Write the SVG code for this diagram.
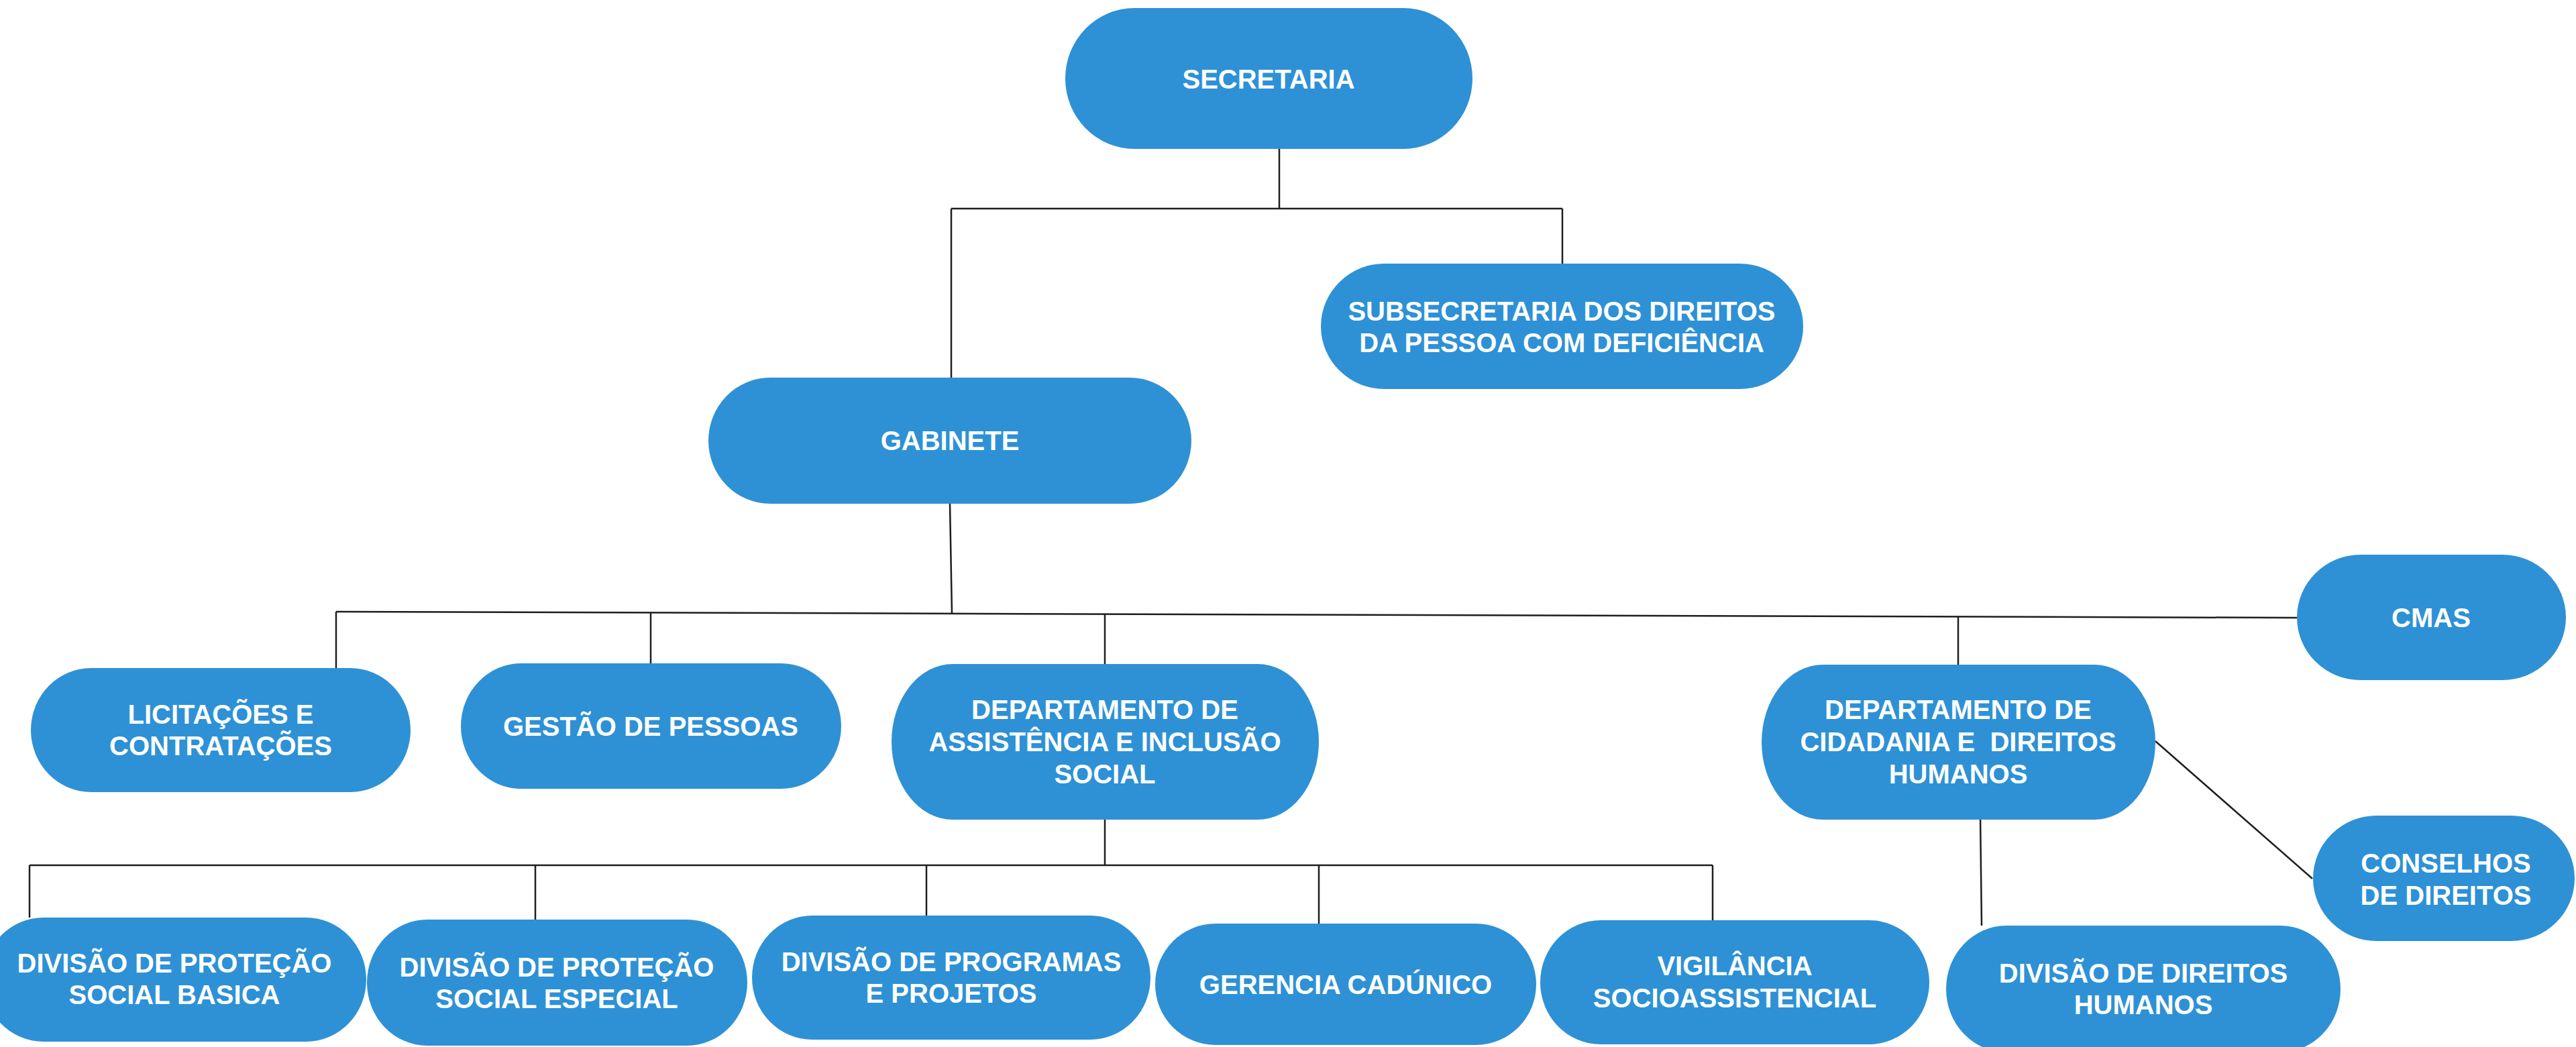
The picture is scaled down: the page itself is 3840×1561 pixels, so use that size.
<svg xmlns="http://www.w3.org/2000/svg" width="3840" height="1561" viewBox="0 0 3840 1561">
<style>
.node rect { fill: #2E91D5; }
.node text { fill: #FFFFFF; font-family: "Liberation Sans", Arial, sans-serif; font-weight: bold; font-size: 40px; text-anchor: middle; white-space: pre; }
#connectors path { fill: none; stroke: #1E1E1E; stroke-width: 2.5; }
</style>
<rect x="0" y="0" width="3840" height="1561" fill="#FFFFFF"/>
<g id="connectors">
<path d="M1907 222 V311"/>
<path d="M1418 311 H2329"/>
<path d="M2329 311 V393"/>
<path d="M1418 311 V563"/>
<path d="M1416 751 L1419 915"/>
<path d="M501 912 L3424 921"/>
<path d="M501 912 V996"/>
<path d="M970 913.4 V989"/>
<path d="M1647 915.5 V990"/>
<path d="M2919 919.4 V991"/>
<path d="M1647 1222 V1290"/>
<path d="M44 1290 H2553"/>
<path d="M44 1290 V1368"/>
<path d="M798 1290 V1371"/>
<path d="M1381 1290 V1365"/>
<path d="M1966 1290 V1377"/>
<path d="M2553 1290 V1372"/>
<path d="M2952 1217 L2954 1380"/>
<path d="M3213 1105 L3447 1310"/>
</g>
<g id="secretaria" class="node">
<rect x="1588" y="12" width="607" height="210" rx="103" ry="105"/>
<text x="1891" y="132">SECRETARIA</text>
</g>
<g id="subsecretaria" class="node">
<rect x="1969" y="393" width="719" height="187" rx="95" ry="93.5"/>
<text x="2328" y="478">SUBSECRETARIA DOS DIREITOS</text>
<text x="2328" y="525">DA PESSOA COM DEFICIÊNCIA</text>
</g>
<g id="gabinete" class="node">
<rect x="1056" y="563" width="720" height="188" rx="92" ry="94"/>
<text x="1416" y="671">GABINETE</text>
</g>
<g id="licitacoes" class="node">
<rect x="46" y="996" width="566" height="185" rx="90" ry="92.5"/>
<text x="329" y="1079">LICITAÇÕES E</text>
<text x="329" y="1126">CONTRATAÇÕES</text>
</g>
<g id="gestao-pessoas" class="node">
<rect x="687" y="989" width="567" height="187" rx="90" ry="93.5"/>
<text x="970" y="1097">GESTÃO DE PESSOAS</text>
</g>
<g id="dept-assistencia" class="node">
<rect x="1329" y="990" width="637" height="232" rx="91" ry="116"/>
<text x="1647" y="1072">DEPARTAMENTO DE</text>
<text x="1647" y="1120">ASSISTÊNCIA E INCLUSÃO</text>
<text x="1647" y="1168">SOCIAL</text>
</g>
<g id="dept-cidadania" class="node">
<rect x="2626" y="991" width="587" height="231" rx="91" ry="115.5"/>
<text x="2919" y="1072">DEPARTAMENTO DE</text>
<text x="2919" y="1120">CIDADANIA E  DIREITOS</text>
<text x="2919" y="1168">HUMANOS</text>
</g>
<g id="cmas" class="node">
<rect x="3424" y="827" width="401" height="187" rx="95" ry="93.5"/>
<text x="3624" y="935">CMAS</text>
</g>
<g id="conselhos" class="node">
<rect x="3448" y="1216" width="390" height="187" rx="95" ry="93.5"/>
<text x="3646" y="1301">CONSELHOS</text>
<text x="3646" y="1349">DE DIREITOS</text>
</g>
<g id="div-basica" class="node">
<rect x="-25" y="1368" width="571" height="185" rx="90" ry="92.5"/>
<text x="260" y="1450">DIVISÃO DE PROTEÇÃO</text>
<text x="260" y="1497">SOCIAL BASICA</text>
</g>
<g id="div-especial" class="node">
<rect x="547" y="1371" width="567" height="188" rx="90" ry="94"/>
<text x="830" y="1456">DIVISÃO DE PROTEÇÃO</text>
<text x="830" y="1503">SOCIAL ESPECIAL</text>
</g>
<g id="div-programas" class="node">
<rect x="1121" y="1365" width="594" height="185" rx="90" ry="92.5"/>
<text x="1418" y="1448">DIVISÃO DE PROGRAMAS</text>
<text x="1418" y="1495">E PROJETOS</text>
</g>
<g id="gerencia-cadunico" class="node">
<rect x="1722" y="1377" width="568" height="181" rx="90" ry="90.5"/>
<text x="2006" y="1482">GERENCIA CADÚNICO</text>
</g>
<g id="vigilancia" class="node">
<rect x="2296" y="1372" width="580" height="185" rx="90" ry="92.5"/>
<text x="2586" y="1454">VIGILÂNCIA</text>
<text x="2586" y="1502">SOCIOASSISTENCIAL</text>
</g>
<g id="div-direitos-humanos" class="node">
<rect x="2901" y="1380" width="588" height="189" rx="90" ry="94.5"/>
<text x="3195" y="1465">DIVISÃO DE DIREITOS</text>
<text x="3195" y="1512">HUMANOS</text>
</g>
</svg>
